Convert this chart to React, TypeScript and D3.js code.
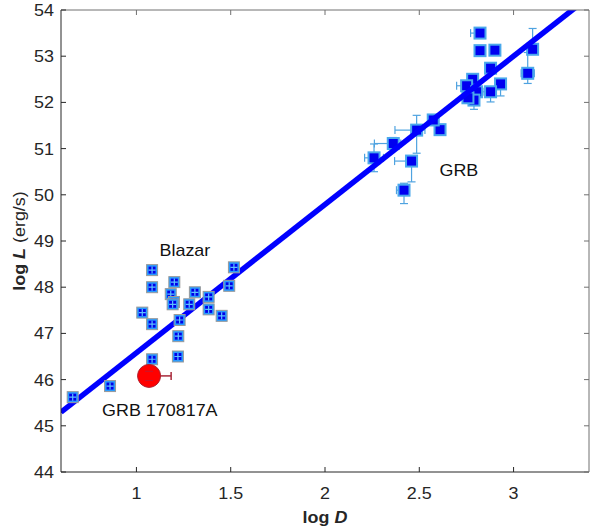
import React, { useEffect, useRef } from 'react';
import * as d3 from 'd3';

// blazars (log D, log L)
const blazarD = [1.083, 1.083, 1.201, 1.182, 1.199, 1.192, 1.310, 1.280, 1.383, 1.383, 1.452, 1.031, 1.083, 1.229, 1.222, 1.220, 1.083, 1.517, 1.492, 0.860, 0.662];
const blazarL = [48.37, 48.00, 48.11, 47.85, 47.68, 47.63, 47.89, 47.63, 47.79, 47.52, 47.38, 47.45, 47.20, 47.29, 46.94, 46.50, 46.44, 48.43, 48.03, 45.86, 45.62];

// GRBs with asymmetric error bars
const grbD = [2.822, 2.822, 2.901, 3.101, 3.075, 2.878, 2.931, 2.878, 2.783, 2.751, 2.804, 2.790, 2.758, 2.610, 2.574, 2.486, 2.362, 2.260, 2.459, 2.419];
const grbL = [53.50, 53.12, 53.13, 53.15, 52.63, 52.74, 52.40, 52.23, 52.50, 52.36, 52.23, 52.05, 52.10, 51.41, 51.62, 51.40, 51.11, 50.80, 50.73, 50.10];
const grbDLo = [0.05, 0.01, 0.01, 0.01, 0.035, 0.01, 0.01, 0.04, 0.02, 0.053, 0.02, 0.01, 0.02, 0.01, 0.02, 0.115, 0.10, 0.05, 0.09, 0.04];
const grbDHi = [0.02, 0.01, 0.01, 0.01, 0.035, 0.01, 0.01, 0.01, 0.02, 0.01, 0.02, 0.01, 0.02, 0.01, 0.02, 0.044, 0.04, 0.05, 0.01, 0.01];
const grbLLo = [0.03, 0.03, 0.03, 0.03, 0.22, 0.05, 0.26, 0.22, 0.05, 0.05, 0.05, 0.20, 0.05, 0.05, 0.05, 0.50, 0.05, 0.30, 0.45, 0.29];
const grbLHi = [0.03, 0.03, 0.03, 0.45, 0.45, 0.05, 0.10, 0.05, 0.05, 0.05, 0.05, 0.05, 0.05, 0.05, 0.05, 0.32, 0.13, 0.30, 0.05, 0.15];

// GRB 170817A
const mergerD = [1.067];
const mergerL = [46.08];
const mergerDErr = [0.117];
const mergerLErr = [0.1];

// fitted relation log L = a + b log D
const fitIntercept = 43.37;
const fitSlope = 3.21;

const xTicks = [1, 1.5, 2, 2.5, 3];
const yTicks = [44, 45, 46, 47, 48, 49, 50, 51, 52, 53, 54];

const W = 598, H = 527;
const margin = { left: 61, right: 9, top: 10, bottom: 55 };
const FS = 16;
const SX = 1.12; // reference glyphs are a bit wide

export default function App() {
    const ref = useRef<SVGSVGElement>(null);

    useEffect(() => {
        document.body.style.margin = '0';
        const svg = d3.select(ref.current);
        svg.selectAll('*').remove();

        const x = d3.scaleLinear().domain([0.6, 3.4]).range([margin.left, W - margin.right]);
        const y = d3.scaleLinear().domain([44, 54]).range([H - margin.bottom, margin.top]);
        const font = '"Liberation Sans", Arial, sans-serif';

        const label = (px: number, py: number, anchor: string, txt: string, fill = '#262626') =>
            svg.append('text')
                .attr('transform', `translate(${px},${py}) scale(${SX},1)`)
                .attr('text-anchor', anchor).attr('font-family', font).attr('font-size', FS)
                .attr('fill', fill).text(txt);

        svg.append('defs').append('clipPath').attr('id', 'plotclip')
            .append('rect')
            .attr('x', x(0.6)).attr('y', y(54))
            .attr('width', x(3.4) - x(0.6)).attr('height', y(44) - y(54));

        svg.append('rect').attr('width', W).attr('height', H).attr('fill', '#fff');

        const plot = svg.append('g').attr('clip-path', 'url(#plotclip)');

        // GRB error bars
        const eb = plot.append('g').attr('stroke', '#4fa3e0').attr('stroke-width', 1.2).attr('fill', 'none');
        grbD.forEach((d, i) => {
            const cx = x(d), cy = y(grbL[i]);
            const x0 = x(d - grbDLo[i]), x1 = x(d + grbDHi[i]);
            const y0 = y(grbL[i] - grbLLo[i]), y1 = y(grbL[i] + grbLHi[i]);
            const c = 4;
            eb.append('line').attr('x1', x0).attr('x2', x1).attr('y1', cy).attr('y2', cy);
            eb.append('line').attr('x1', x0).attr('x2', x0).attr('y1', cy - c).attr('y2', cy + c);
            eb.append('line').attr('x1', x1).attr('x2', x1).attr('y1', cy - c).attr('y2', cy + c);
            eb.append('line').attr('x1', cx).attr('x2', cx).attr('y1', y0).attr('y2', y1);
            eb.append('line').attr('x1', cx - c).attr('x2', cx + c).attr('y1', y0).attr('y2', y0);
            eb.append('line').attr('x1', cx - c).attr('x2', cx + c).attr('y1', y1).attr('y2', y1);
        });

        // GRB markers
        plot.append('g').selectAll('rect')
            .data(grbD.map((d, i) => [d, grbL[i]]))
            .enter().append('rect')
            .attr('x', (p) => x(p[0]) - 5.5)
            .attr('y', (p) => y(p[1]) - 5.5)
            .attr('width', 11).attr('height', 11)
            .attr('fill', '#0000f0')
            .attr('stroke', '#4aa8ec')
            .attr('stroke-width', 2);

        // fit line
        const xs = [0.6, 3.4];
        plot.append('path')
            .attr('d', d3.line<number>().x((d) => x(d)).y((d) => y(fitIntercept + fitSlope * d))(xs))
            .attr('stroke', '#0000ff')
            .attr('stroke-width', 5.5)
            .attr('fill', 'none');

        // blazar markers
        const bz = plot.append('g').selectAll('g')
            .data(blazarD.map((d, i) => [d, blazarL[i]]))
            .enter().append('g')
            .attr('transform', (p) => `translate(${x(p[0])},${y(p[1])})`);
        bz.append('rect').attr('x', -5.5).attr('y', -5.5).attr('width', 11).attr('height', 11)
            .attr('fill', '#2a9cff').attr('stroke', '#9a9a9a').attr('stroke-width', 1);
        bz.append('rect').attr('x', -3.5).attr('y', -3.5).attr('width', 7).attr('height', 7)
            .attr('fill', '#0000e8');
        bz.append('path').attr('d', 'M-3.5,0H3.5M0,-3.5V3.5')
            .attr('stroke', '#5cc0ff').attr('stroke-width', 1.2);

        // GRB 170817A
        const mg = plot.append('g');
        mergerD.forEach((d, i) => {
            const cx = x(d), cy = y(mergerL[i]);
            const x1 = x(d + mergerDErr[i]);
            mg.append('line').attr('x1', cx).attr('x2', x1).attr('y1', cy).attr('y2', cy)
                .attr('stroke', '#a8283a').attr('stroke-width', 1.5);
            mg.append('line').attr('x1', x1).attr('x2', x1).attr('y1', cy - 4).attr('y2', cy + 4)
                .attr('stroke', '#a8283a').attr('stroke-width', 1.5);
            mg.append('circle').attr('cx', cx).attr('cy', cy).attr('r', 11.5)
                .attr('fill', '#ff0000').attr('stroke', '#b02030').attr('stroke-width', 1);
            [y(mergerL[i] - mergerLErr[i]), y(mergerL[i] + mergerLErr[i])].forEach((yy) => {
                mg.append('line').attr('x1', cx - 4).attr('x2', cx + 4).attr('y1', yy).attr('y2', yy)
                    .attr('stroke', '#b02040').attr('stroke-width', 1).attr('opacity', 0.7);
            });
        });

        // axes box
        const axisColor = '#262626';
        const ax = svg.append('g').attr('stroke-width', 1).attr('fill', 'none');
        ax.append('line').attr('x1', x(0.6)).attr('x2', x(3.4)).attr('y1', y(44)).attr('y2', y(44)).attr('stroke', axisColor);
        ax.append('line').attr('x1', x(0.6)).attr('x2', x(0.6)).attr('y1', y(44)).attr('y2', y(54)).attr('stroke', axisColor);
        ax.append('line').attr('x1', x(0.6)).attr('x2', x(3.4)).attr('y1', y(54)).attr('y2', y(54)).attr('stroke', '#707070');
        ax.append('line').attr('x1', x(3.4)).attr('x2', x(3.4)).attr('y1', y(44)).attr('y2', y(54)).attr('stroke', '#707070');

        const tl = 5;
        xTicks.forEach((t) => {
            ax.append('line').attr('x1', x(t)).attr('x2', x(t)).attr('y1', y(44)).attr('y2', y(44) - tl).attr('stroke', axisColor);
            ax.append('line').attr('x1', x(t)).attr('x2', x(t)).attr('y1', y(54)).attr('y2', y(54) + tl).attr('stroke', '#707070');
            label(x(t), y(44) + 27, 'middle', String(t));
        });
        yTicks.forEach((t) => {
            ax.append('line').attr('x1', x(0.6)).attr('x2', x(0.6) + tl).attr('y1', y(t)).attr('y2', y(t)).attr('stroke', axisColor);
            ax.append('line').attr('x1', x(3.4)).attr('x2', x(3.4) - tl).attr('y1', y(t)).attr('y2', y(t)).attr('stroke', '#707070');
            label(x(0.6) - 7, y(t) + 6, 'end', String(t));
        });

        // axis titles
        const xt = svg.append('text')
            .attr('transform', `translate(${(x(0.6) + x(3.4)) / 2},${H - 4}) scale(${SX},1)`)
            .attr('text-anchor', 'middle').attr('font-family', font).attr('font-size', FS)
            .attr('font-weight', 'bold').attr('fill', axisColor);
        xt.append('tspan').text('log ');
        xt.append('tspan').attr('font-style', 'italic').text('D');

        const yt = svg.append('text')
            .attr('transform', `translate(25,${(y(44) + y(54)) / 2}) rotate(-90) scale(${SX},1)`)
            .attr('text-anchor', 'middle').attr('font-family', font).attr('font-size', FS)
            .attr('fill', axisColor);
        yt.append('tspan').attr('font-weight', 'bold').text('log ');
        yt.append('tspan').attr('font-weight', 'bold').attr('font-style', 'italic').text('L');
        yt.append('tspan').text(' (erg/s)');

        // annotations
        label(x(1.257), y(48.68), 'middle', 'Blazar', '#111');
        label(x(2.71), y(50.4), 'middle', 'GRB', '#111');
        label(x(0.818), y(45.21), 'start', 'GRB 170817A', '#111');
    }, []);

    return <svg ref={ref} width={W} height={H} style={{ display: 'block' }} />;
}
